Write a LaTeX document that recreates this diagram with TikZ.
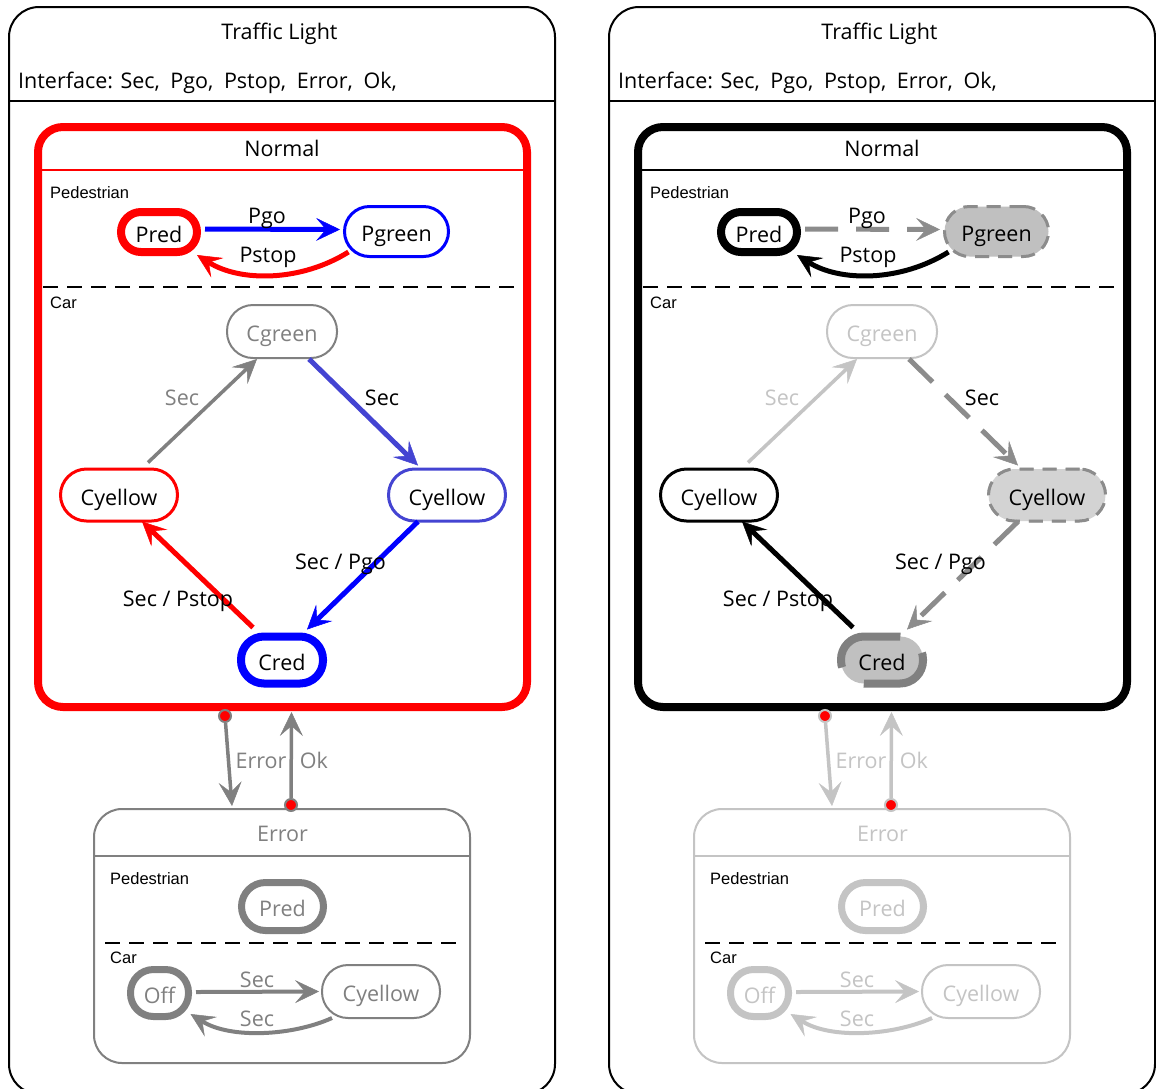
\documentclass[tikz,border=0pt]{standalone}
\usepackage{fontspec}
\setmainfont{Open Sans}
\newfontfamily\tagfamily{Liberation Sans}
\usetikzlibrary{arrows.meta,calc}

\definecolor{tlred}{RGB}{255,0,0}
\definecolor{tlblue}{RGB}{0,0,255}
\definecolor{tlslate}{RGB}{68,68,210}
\definecolor{tlgray}{RGB}{128,128,128}
\definecolor{tlmid}{RGB}{140,140,140}
\definecolor{tlpale}{RGB}{180,180,180}
\definecolor{tllight}{RGB}{196,196,196}
\definecolor{tlfillA}{RGB}{192,192,192}
\definecolor{tlfillB}{RGB}{211,211,211}

\newcommand\tlfont{\fontsize{21.5}{24}\selectfont}
\newcommand\tagfont{\tagfamily\fontsize{16.5}{19}\selectfont}
\newcommand\ifgap{\hspace{5pt}}

\tikzset{
  >={Stealth[length=24pt,width=23pt,inset=10pt,line width=0.5pt]},
  lbl/.style={anchor=base, inner sep=0pt, font=\tlfont},
  tag/.style={anchor=base west, inner sep=0pt, font=\tagfont},
  state/.style={rectangle, inner sep=0pt, text height=24pt, text depth=4pt, font=\tlfont},
  frame/.style={rectangle, draw=black, line width=2pt, rounded corners=30pt},
  sepline/.style={draw=black, line width=2pt, dash pattern=on 15pt off 9pt},
  dotst/.style={circle, inner sep=0pt, minimum size=12pt, fill=tlred, draw=#1, line width=2pt},
  dashnode/.style={preaction={fill=#1, draw=tlpale, line width=2.5pt}, draw=tlmid, line width=3pt, dash pattern=on 14pt off 9pt},
  % colouring of the active configuration (left panel)
  normalbox/.style={rectangle, draw=tlred, line width=8pt, rounded corners=25pt},
  normalrule/.style={draw=tlred, line width=1.5pt},
  sPred/.style={draw=tlred, line width=8pt},
  sPgreen/.style={draw=tlblue, line width=3pt},
  sCgreen/.style={draw=tlgray, text=tlgray, line width=2pt},
  sCyl/.style={draw=tlred, line width=3pt},
  sCyr/.style={draw=tlslate, line width=3pt},
  sCred/.style={draw=tlblue, line width=8pt},
  aPgo/.style={->, draw=tlblue, line width=5pt},
  aPstop/.style={->, draw=tlred, line width=5pt},
  aUp/.style={->, draw=tlgray, line width=3.5pt},
  lUp/.style={text=tlgray},
  aDiagR/.style={->, draw=tlslate, line width=5pt},
  aDiagL/.style={->, draw=tlblue, line width=5pt},
  aBack/.style={->, draw=tlred, line width=5pt},
}

% #1 = name prefix, #2 = colour of the Error part
\newcommand\tlpanel[2]{%
  \node[frame, minimum width=546pt, minimum height=1087pt] (#1frame) at (282,550.5) {};
  \coordinate (#1hdr) at (0,101);
  \draw[line width=2pt] (#1frame.west |- #1hdr) -- (#1frame.east |- #1hdr);
  \node[lbl] (#1title) at (279.5,39.5) {Traffic Light};
  \node[lbl, anchor=base west] (#1iface) at (18,88.5) {Interface: Sec,\ifgap{} Pgo,\ifgap{} Pstop,\ifgap{} Error,\ifgap{} Ok,};
  % Normal super-state
  \node[normalbox, minimum width=489pt, minimum height=580pt] (#1normal) at (282.5,417) {};
  \coordinate (#1nrule) at (0,170);
  \draw[normalrule] (#1normal.west |- #1nrule) -- (#1normal.east |- #1nrule);
  \node[lbl] (#1ntitle) at (282,156.5) {Normal};
  \node[tag] (#1ped) at (50,198.5) {Pedestrian};
  \draw[sepline] (43,287) -- (520,287);
  \node[tag] (#1car) at (50,308) {Car};
  % pedestrian region
  \node[state, sPred, minimum width=76pt, minimum height=40pt, rounded corners=20pt] (#1pred) at (159,232) {Pred};
  \node[state, sPgreen, minimum width=104pt, minimum height=50pt, rounded corners=25pt] (#1pgreen) at (396.5,231.5) {Pgreen};
  \draw[aPgo] ($(#1pred.east)+(4,-3)$) -- ($(#1pgreen.west)+(-3,-2)$);
  \node[lbl] (#1lpgo) at (267,223) {Pgo};
  \draw[aPstop] ($(#1pgreen.south)+(-48,-6)$) .. controls +(-48,30) and +(43,27) .. ($(#1pred.south)+(38,-1)$);
  \node[lbl] (#1lpstop) at (268,262) {Pstop};
  % car region
  \node[state, sCgreen, minimum width=110pt, minimum height=53pt, rounded corners=26pt] (#1cgreen) at (282,331.5) {Cgreen};
  \node[state, sCyl, minimum width=117pt, minimum height=52pt, rounded corners=26pt] (#1cyl) at (119,495) {Cyellow};
  \node[state, sCyr, minimum width=117pt, minimum height=52pt, rounded corners=26pt] (#1cyr) at (447,495) {Cyellow};
  \node[state, sCred, minimum width=82pt, minimum height=47pt, rounded corners=23pt] (#1cred) at (282,660) {Cred};
  \draw[aUp] ($(#1cyl.north)+(29,-5)$) -- ($(#1cgreen.south)+(-25,0)$);
  \node[lbl, lUp] (#1lup) at (182,405) {Sec};
  \draw[aDiagR] ($(#1cgreen.south)+(27,0)$) -- ($(#1cyr.north)+(-29,-2)$);
  \node[lbl] (#1ldown) at (382,405) {Sec};
  \draw[aDiagL] ($(#1cyr.south)+(-29,-1)$) -- ($(#1cred.north)+(25,-3)$);
  \node[lbl] (#1lgo) at (340.5,569) {Sec / Pgo};
  \draw[aBack] ($(#1cred.north)+(-29,-5)$) -- ($(#1cyl.south)+(23,-1)$);
  \node[lbl] (#1lstop) at (178,606) {Sec / Pstop};
  % Error super-state
  \node[frame, draw=#2, minimum width=376pt, minimum height=254pt, rounded corners=28pt] (#1err) at (282,936) {};
  \coordinate (#1erule) at (0,856);
  \draw[#2, line width=2pt] (#1err.west |- #1erule) -- (#1err.east |- #1erule);
  \node[lbl, text=#2] (#1etitle) at (282.5,841.5) {Error};
  \node[tag] (#1eped) at (110,884) {Pedestrian};
  \node[state, draw=#2, text=#2, line width=7pt, minimum width=82pt, minimum height=48pt, rounded corners=24pt] (#1epred) at (282.5,906.5) {Pred};
  \draw[sepline] (105,943) -- (458,943);
  \node[tag] (#1ecar) at (110,963) {Car};
  \node[state, draw=#2, text=#2, line width=7pt, minimum width=58pt, minimum height=47pt, rounded corners=23pt] (#1off) at (159.5,993) {Off};
  \node[state, draw=#2, text=#2, line width=2pt, minimum width=118pt, minimum height=53pt, rounded corners=26pt] (#1ecy) at (381,991.5) {Cyellow};
  \draw[->, #2, line width=4pt] ($(#1off.east)+(4,-1)$) -- ($(#1ecy.west)+(-2,0)$);
  \node[lbl, text=#2] (#1lsec1) at (257,987) {Sec};
  \draw[->, #2, line width=4pt] ($(#1ecy.south)+(-49,-1)$) .. controls +(-40,18) and +(40,25) .. ($(#1off.south)+(31,-6)$);
  \node[lbl, text=#2] (#1lsec2) at (257,1026) {Sec};
  % Error / Ok transitions
  \node[dotst=#2] (#1dote) at ($(#1normal.south)+(-57.5,5)$) {};
  \node[dotst=#2] (#1doto) at ($(#1err.north)+(9,-3)$) {};
  \draw[->, #2, line width=3.5pt] (#1dote) -- ($(#1err.north)+(-50,-2)$);
  \draw[->, #2, line width=3.5pt] (#1doto) -- ($(#1normal.south)+(9,1)$);
  \node[lbl, text=#2] (#1lerr) at (261,768) {Error};
  \node[lbl, text=#2] (#1lok) at (314,768) {Ok};
}

\begin{document}
\begin{tikzpicture}[x=1pt, y=-1pt]
  \useasboundingbox (0,0) rectangle (1156,1088);
  \clip (0,0) rectangle (1156,1088);
  \fill[white] (0,0) rectangle (1156,1088);
  \begin{scope}
    \tlpanel{L}{tlgray}
  \end{scope}
  \begin{scope}[xshift=600pt,
    normalbox/.style={rectangle, draw=black, line width=8pt, rounded corners=25pt},
    normalrule/.style={draw=black, line width=1.5pt},
    sPred/.style={draw=black, line width=8pt},
    sPgreen/.style={dashnode=tlfillA},
    sCgreen/.style={draw=tllight, text=tllight, line width=2pt},
    sCyl/.style={draw=black, line width=3pt},
    sCyr/.style={dashnode=tlfillB},
    sCred/.style={preaction={fill=tlfillA, draw=tlpale, line width=2pt}, draw=tlgray, line width=8pt, dash pattern=on 80pt off 29pt},
    aPgo/.style={->, draw=tlmid, line width=5pt, dash pattern=on 33pt off 18pt},
    aPstop/.style={->, draw=black, line width=5pt},
    aUp/.style={->, draw=tllight, line width=3.5pt},
    lUp/.style={text=tllight},
    aDiagR/.style={->, draw=tlmid, line width=5pt, dash pattern=on 33pt off 18pt},
    aDiagL/.style={->, draw=tlmid, line width=5pt, dash pattern=on 33pt off 18pt},
    aBack/.style={->, draw=black, line width=5pt}]
    \tlpanel{R}{tllight}
  \end{scope}
\end{tikzpicture}
\end{document}
